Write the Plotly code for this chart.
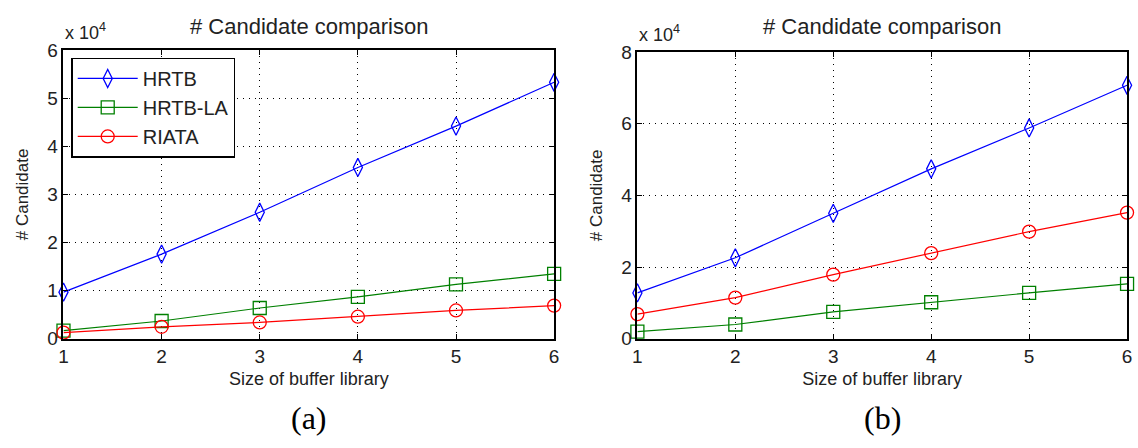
import plotly.graph_objects as go

x_sizes = [1, 2, 3, 4, 5, 6]
# panel (a) values in units of 1e4
a_hrtb = [0.97, 1.76, 2.63, 3.56, 4.42, 5.33]
a_hrtb_la = [0.17, 0.37, 0.64, 0.87, 1.13, 1.35]
a_riata = [0.13, 0.25, 0.34, 0.46, 0.59, 0.69]
# panel (b) values in units of 1e4
b_hrtb = [1.28, 2.26, 3.50, 4.74, 5.88, 7.07]
b_hrtb_la = [0.20, 0.40, 0.75, 1.02, 1.28, 1.53]
b_riata = [0.69, 1.15, 1.79, 2.39, 2.99, 3.52]

names = ["HRTB", "HRTB-LA", "RIATA"]
colors = ["#0000ff", "#008000", "#ff0000"]
symbols = ["diamond-tall-open", "square-open", "circle-open"]
sizes = [13, 13, 13]

W, H = 1138, 448
FONT = "Liberation Sans, Arial, sans-serif"

fig = go.Figure()

panels = [
    dict(series=[a_hrtb, a_hrtb_la, a_riata], xa="x", ya="y",
         xd=[59 / W, 554 / W], yd=[(H - 345) / H, (H - 42) / H], ymax=6, dtick=1, label="(a)"),
    dict(series=[b_hrtb, b_hrtb_la, b_riata], xa="x2", ya="y2",
         xd=[638 / W, 1132 / W], yd=[(H - 345) / H, (H - 44) / H], ymax=8, dtick=2, label="(b)"),
]

for pi, p in enumerate(panels):
    for si, vals in enumerate(p["series"]):
        fig.add_trace(go.Scatter(
            x=x_sizes, y=vals, mode="lines+markers", name=names[si],
            line=dict(color=colors[si], width=1.2),
            marker=dict(symbol=symbols[si], size=sizes[si], color=colors[si],
                        line=dict(width=1.3, color=colors[si])),
            xaxis=p["xa"], yaxis=p["ya"], showlegend=(pi == 0), cliponaxis=False,
        ))

axis_common = dict(
    showline=True, linecolor="black", linewidth=1.5, mirror="ticks",
    ticks="inside", ticklen=5, tickcolor="black",
    showgrid=True, gridcolor="black", griddash="1px,5px", gridwidth=1.2,
    zeroline=False, tickfont=dict(family=FONT, size=19, color="#222"),
)

layout = dict(
    width=W, height=H, margin=dict(l=0, r=0, t=0, b=0),
    paper_bgcolor="white", plot_bgcolor="white",
    font=dict(family=FONT, color="#222"),
    legend=dict(x=67 / W, y=(H - 50) / H, xanchor="left", yanchor="top",
                bordercolor="black", borderwidth=1.3, bgcolor="white",
                font=dict(family=FONT, size=20, color="#222"),
                tracegroupgap=0, itemwidth=60),
)

annotations = []
for pi, p in enumerate(panels):
    suf = "" if pi == 0 else "2"
    layout["xaxis" + suf] = dict(axis_common, domain=p["xd"], range=[1, 6], dtick=1,
                                 anchor="y" + suf,
                                 title=dict(text="Size of buffer library",
                                            font=dict(family=FONT, size=18), standoff=6))
    layout["yaxis" + suf] = dict(axis_common, domain=p["yd"], range=[0, p["ymax"]], dtick=p["dtick"],
                                 anchor="x" + suf,
                                 title=dict(text="# Candidate", font=dict(family=FONT, size=17), standoff=14))
    cx = (p["xd"][0] + p["xd"][1]) / 2
    annotations.append(dict(text="# Candidate comparison", x=cx, y=(H - 17) / H, xref="paper", yref="paper",
                            showarrow=False, font=dict(family=FONT, size=22, color="#222"),
                            xanchor="center", yanchor="middle"))
    annotations.append(dict(text="x 10<sup>4</sup>", x=p["xd"][0], y=p["yd"][1] + 5 / H, xref="paper", yref="paper",
                            showarrow=False, font=dict(family=FONT, size=18, color="#222"),
                            xanchor="left", yanchor="bottom"))
    annotations.append(dict(text=p["label"], x=cx, y=(H - 428) / H, xref="paper", yref="paper",
                            showarrow=False, font=dict(family="Liberation Serif, Times New Roman, serif", size=32, color="black"),
                            xanchor="center", yanchor="middle"))

layout["annotations"] = annotations
fig.update_layout(**layout)
fig.write_html("out.html")
